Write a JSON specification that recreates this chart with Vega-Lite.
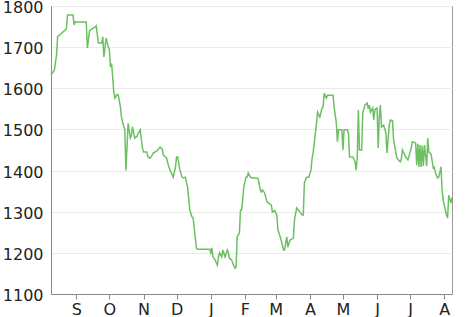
{
  "$schema": "https://vega.github.io/schema/vega-lite/v6.json",
  "width": 401,
  "height": 288,
  "autosize": {"type": "none"},
  "padding": {"left": 51, "top": 6, "right": 14, "bottom": 23},
  "background": "white",
  "config": {
    "view": {"stroke": "#999", "strokeWidth": 1},
    "axis": {"labelFont": "DejaVu Sans", "labelFontSize": 16, "labelColor": "#222", "domainColor": "#888", "tickColor": "#888", "gridColor": "#ebebeb"}
  },
  "data": {"values": [
    {"date": "2014-08-09", "price": 1632}, {"date": "2014-08-12", "price": 1644}, {"date": "2014-08-14", "price": 1680},
    {"date": "2014-08-15", "price": 1725}, {"date": "2014-08-19", "price": 1735}, {"date": "2014-08-22", "price": 1742},
    {"date": "2014-08-23", "price": 1745}, {"date": "2014-08-24", "price": 1778}, {"date": "2014-08-29", "price": 1778},
    {"date": "2014-08-30", "price": 1754}, {"date": "2014-08-31", "price": 1761}, {"date": "2014-09-10", "price": 1761},
    {"date": "2014-09-11", "price": 1698}, {"date": "2014-09-13", "price": 1740}, {"date": "2014-09-18", "price": 1749},
    {"date": "2014-09-19", "price": 1752}, {"date": "2014-09-21", "price": 1710}, {"date": "2014-09-24", "price": 1710},
    {"date": "2014-09-25", "price": 1725}, {"date": "2014-09-26", "price": 1676}, {"date": "2014-09-28", "price": 1722},
    {"date": "2014-09-29", "price": 1710}, {"date": "2014-10-01", "price": 1693}, {"date": "2014-10-02", "price": 1652},
    {"date": "2014-10-03", "price": 1660}, {"date": "2014-10-04", "price": 1627}, {"date": "2014-10-05", "price": 1591},
    {"date": "2014-10-06", "price": 1576}, {"date": "2014-10-08", "price": 1585}, {"date": "2014-10-09", "price": 1584},
    {"date": "2014-10-11", "price": 1555}, {"date": "2014-10-12", "price": 1530}, {"date": "2014-10-13", "price": 1518},
    {"date": "2014-10-14", "price": 1508}, {"date": "2014-10-15", "price": 1499}, {"date": "2014-10-16", "price": 1400},
    {"date": "2014-10-17", "price": 1457}, {"date": "2014-10-18", "price": 1515}, {"date": "2014-10-20", "price": 1479},
    {"date": "2014-10-21", "price": 1485}, {"date": "2014-10-22", "price": 1506}, {"date": "2014-10-24", "price": 1479},
    {"date": "2014-10-26", "price": 1483}, {"date": "2014-10-27", "price": 1490}, {"date": "2014-10-29", "price": 1499},
    {"date": "2014-10-31", "price": 1455}, {"date": "2014-11-01", "price": 1445}, {"date": "2014-11-04", "price": 1445},
    {"date": "2014-11-05", "price": 1433}, {"date": "2014-11-07", "price": 1430}, {"date": "2014-11-09", "price": 1438},
    {"date": "2014-11-10", "price": 1443}, {"date": "2014-11-13", "price": 1447}, {"date": "2014-11-16", "price": 1457},
    {"date": "2014-11-18", "price": 1452}, {"date": "2014-11-19", "price": 1438}, {"date": "2014-11-22", "price": 1430},
    {"date": "2014-11-23", "price": 1418}, {"date": "2014-11-25", "price": 1401}, {"date": "2014-11-28", "price": 1384},
    {"date": "2014-11-30", "price": 1409}, {"date": "2014-12-01", "price": 1433}, {"date": "2014-12-02", "price": 1433},
    {"date": "2014-12-04", "price": 1401}, {"date": "2014-12-06", "price": 1384}, {"date": "2014-12-07", "price": 1382},
    {"date": "2014-12-09", "price": 1384}, {"date": "2014-12-10", "price": 1370}, {"date": "2014-12-11", "price": 1360},
    {"date": "2014-12-13", "price": 1304}, {"date": "2014-12-15", "price": 1287}, {"date": "2014-12-16", "price": 1285},
    {"date": "2014-12-18", "price": 1236}, {"date": "2014-12-19", "price": 1212}, {"date": "2014-12-20", "price": 1209},
    {"date": "2014-12-31", "price": 1209}, {"date": "2015-01-01", "price": 1200}, {"date": "2015-01-02", "price": 1212},
    {"date": "2015-01-03", "price": 1190}, {"date": "2015-01-05", "price": 1183}, {"date": "2015-01-07", "price": 1170},
    {"date": "2015-01-08", "price": 1190}, {"date": "2015-01-09", "price": 1200}, {"date": "2015-01-11", "price": 1190},
    {"date": "2015-01-12", "price": 1207}, {"date": "2015-01-14", "price": 1190}, {"date": "2015-01-16", "price": 1207},
    {"date": "2015-01-17", "price": 1200}, {"date": "2015-01-18", "price": 1187}, {"date": "2015-01-20", "price": 1183},
    {"date": "2015-01-21", "price": 1175}, {"date": "2015-01-23", "price": 1163}, {"date": "2015-01-24", "price": 1165},
    {"date": "2015-01-25", "price": 1239}, {"date": "2015-01-27", "price": 1248}, {"date": "2015-01-28", "price": 1304},
    {"date": "2015-01-29", "price": 1304}, {"date": "2015-01-30", "price": 1328}, {"date": "2015-01-31", "price": 1360},
    {"date": "2015-02-02", "price": 1384}, {"date": "2015-02-03", "price": 1384}, {"date": "2015-02-04", "price": 1394},
    {"date": "2015-02-06", "price": 1384}, {"date": "2015-02-08", "price": 1382}, {"date": "2015-02-12", "price": 1382},
    {"date": "2015-02-13", "price": 1380}, {"date": "2015-02-15", "price": 1353}, {"date": "2015-02-16", "price": 1348},
    {"date": "2015-02-17", "price": 1353}, {"date": "2015-02-19", "price": 1345}, {"date": "2015-02-21", "price": 1324},
    {"date": "2015-02-22", "price": 1322}, {"date": "2015-02-25", "price": 1316}, {"date": "2015-02-26", "price": 1299},
    {"date": "2015-02-28", "price": 1303}, {"date": "2015-03-02", "price": 1292}, {"date": "2015-03-03", "price": 1256},
    {"date": "2015-03-05", "price": 1239}, {"date": "2015-03-06", "price": 1230}, {"date": "2015-03-08", "price": 1207},
    {"date": "2015-03-09", "price": 1207}, {"date": "2015-03-11", "price": 1239}, {"date": "2015-03-12", "price": 1214},
    {"date": "2015-03-14", "price": 1231}, {"date": "2015-03-17", "price": 1236}, {"date": "2015-03-18", "price": 1280},
    {"date": "2015-03-20", "price": 1309}, {"date": "2015-03-23", "price": 1299}, {"date": "2015-03-25", "price": 1292},
    {"date": "2015-03-26", "price": 1292}, {"date": "2015-03-27", "price": 1370}, {"date": "2015-03-29", "price": 1384},
    {"date": "2015-03-31", "price": 1384}, {"date": "2015-04-02", "price": 1401}, {"date": "2015-04-03", "price": 1430},
    {"date": "2015-04-04", "price": 1445}, {"date": "2015-04-06", "price": 1491}, {"date": "2015-04-07", "price": 1516},
    {"date": "2015-04-08", "price": 1542}, {"date": "2015-04-10", "price": 1530}, {"date": "2015-04-12", "price": 1552},
    {"date": "2015-04-13", "price": 1555}, {"date": "2015-04-14", "price": 1588}, {"date": "2015-04-16", "price": 1576},
    {"date": "2015-04-17", "price": 1583}, {"date": "2015-04-22", "price": 1583}, {"date": "2015-04-23", "price": 1555},
    {"date": "2015-04-25", "price": 1516}, {"date": "2015-04-26", "price": 1470}, {"date": "2015-04-27", "price": 1499},
    {"date": "2015-04-30", "price": 1499}, {"date": "2015-05-01", "price": 1450}, {"date": "2015-05-02", "price": 1499},
    {"date": "2015-05-05", "price": 1499}, {"date": "2015-05-06", "price": 1490}, {"date": "2015-05-07", "price": 1433},
    {"date": "2015-05-10", "price": 1433}, {"date": "2015-05-12", "price": 1421}, {"date": "2015-05-13", "price": 1401},
    {"date": "2015-05-14", "price": 1433}, {"date": "2015-05-15", "price": 1547}, {"date": "2015-05-16", "price": 1450},
    {"date": "2015-05-18", "price": 1450}, {"date": "2015-05-19", "price": 1540}, {"date": "2015-05-21", "price": 1559},
    {"date": "2015-05-23", "price": 1564}, {"date": "2015-05-24", "price": 1550}, {"date": "2015-05-25", "price": 1559},
    {"date": "2015-05-26", "price": 1542}, {"date": "2015-05-28", "price": 1552}, {"date": "2015-05-29", "price": 1523},
    {"date": "2015-05-30", "price": 1548}, {"date": "2015-06-01", "price": 1552}, {"date": "2015-06-02", "price": 1455},
    {"date": "2015-06-03", "price": 1530}, {"date": "2015-06-04", "price": 1559}, {"date": "2015-06-05", "price": 1506},
    {"date": "2015-06-07", "price": 1510}, {"date": "2015-06-09", "price": 1491}, {"date": "2015-06-10", "price": 1443},
    {"date": "2015-06-12", "price": 1510}, {"date": "2015-06-13", "price": 1523}, {"date": "2015-06-15", "price": 1521},
    {"date": "2015-06-16", "price": 1474}, {"date": "2015-06-19", "price": 1430}, {"date": "2015-06-22", "price": 1421},
    {"date": "2015-06-23", "price": 1428}, {"date": "2015-06-24", "price": 1450}, {"date": "2015-06-27", "price": 1433},
    {"date": "2015-06-29", "price": 1426}, {"date": "2015-07-02", "price": 1455}, {"date": "2015-07-03", "price": 1470},
    {"date": "2015-07-06", "price": 1467}, {"date": "2015-07-07", "price": 1413}, {"date": "2015-07-08", "price": 1465},
    {"date": "2015-07-09", "price": 1409}, {"date": "2015-07-10", "price": 1462}, {"date": "2015-07-11", "price": 1409},
    {"date": "2015-07-12", "price": 1460}, {"date": "2015-07-13", "price": 1411}, {"date": "2015-07-14", "price": 1462},
    {"date": "2015-07-16", "price": 1411}, {"date": "2015-07-17", "price": 1479}, {"date": "2015-07-18", "price": 1445},
    {"date": "2015-07-20", "price": 1440}, {"date": "2015-07-22", "price": 1406}, {"date": "2015-07-23", "price": 1408},
    {"date": "2015-07-24", "price": 1394}, {"date": "2015-07-26", "price": 1382}, {"date": "2015-07-27", "price": 1384},
    {"date": "2015-07-29", "price": 1409}, {"date": "2015-07-30", "price": 1353}, {"date": "2015-07-31", "price": 1328},
    {"date": "2015-08-02", "price": 1304}, {"date": "2015-08-03", "price": 1292}, {"date": "2015-08-04", "price": 1285},
    {"date": "2015-08-05", "price": 1340}, {"date": "2015-08-07", "price": 1321}, {"date": "2015-08-08", "price": 1335}
  ]},
  "mark": {"type": "line", "color": "#6cc062", "strokeWidth": 1.5, "interpolate": "linear"},
  "encoding": {
    "x": {
      "field": "date", "type": "temporal", "title": null,
      "scale": {"type": "utc", "domain": [{"year": 2014, "month": 8, "date": 9, "utc": true}, {"year": 2015, "month": 8, "date": 8, "utc": true}]},
      "axis": {"grid": false, "tickCount": {"interval": "month", "step": 1}, "labelExpr": "slice(utcFormat(datum.value, '%b'), 0, 1)", "labelAlign": "center", "tickSize": 5, "labelPadding": 2, "labelFlush": false, "labelOverlap": false}
    },
    "y": {
      "field": "price", "type": "quantitative", "title": null,
      "scale": {"domain": [1100, 1800], "nice": false, "zero": false},
      "axis": {"values": [1100, 1200, 1300, 1400, 1500, 1600, 1700, 1800], "format": "d", "ticks": false, "labelPadding": 8, "labelOffset": 1.5, "grid": true}
    }
  }
}
